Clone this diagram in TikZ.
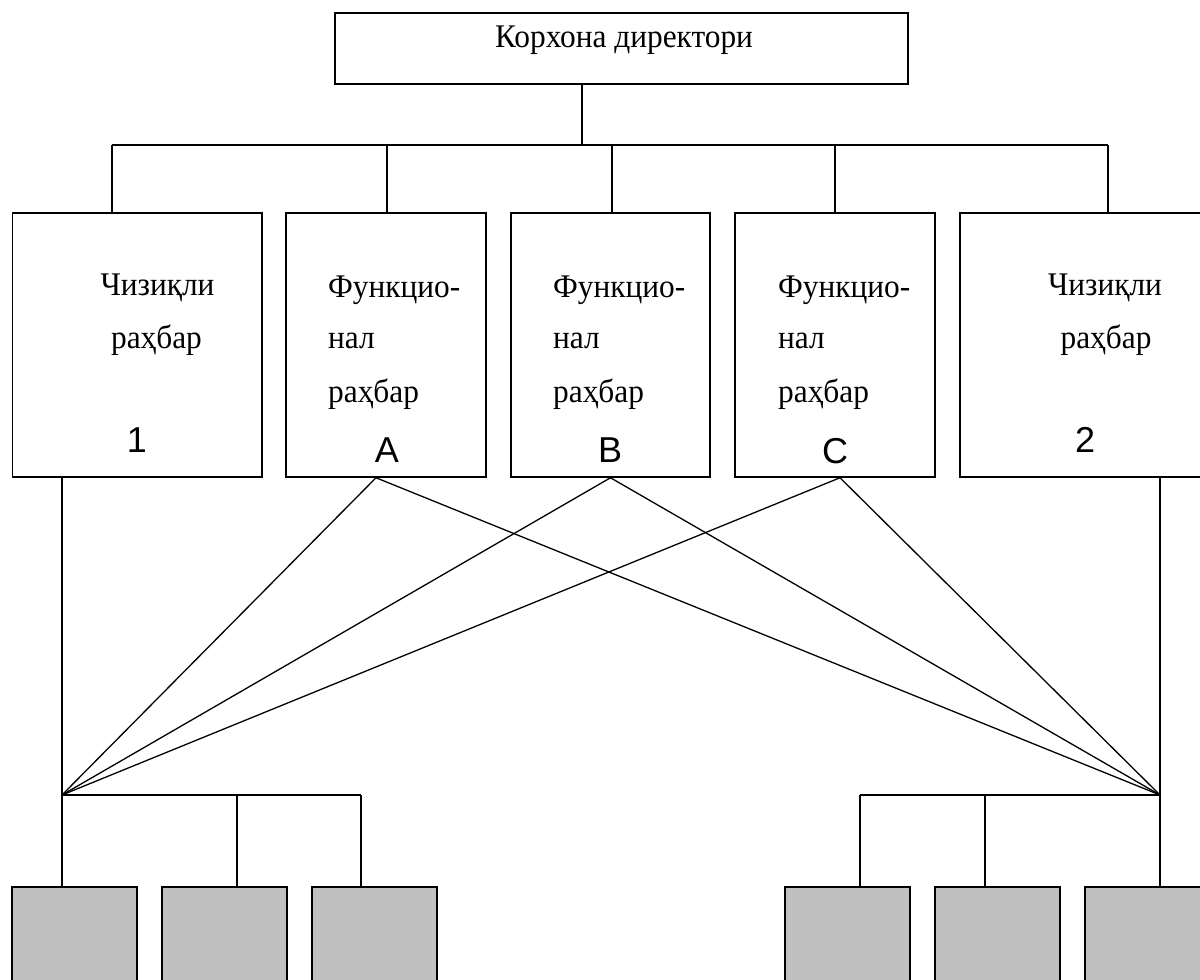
\documentclass[tikz,border=0pt]{standalone}
\usepackage{fontspec}
\setmainfont{Liberation Serif}[FakeStretch=0.95]
\newfontfamily\lsans{Liberation Sans}
\definecolor{boxgray}{RGB}{192,192,192}
\begin{document}
\begin{tikzpicture}[x=1pt,y=-1pt,
  box/.style={draw, rectangle, line width=1.5pt, inner sep=0pt},
  gbox/.style={draw, rectangle, line width=1.5pt, fill=boxgray, inner sep=0pt, minimum width=125pt, minimum height=110pt},
  lab/.style={inner sep=0pt, font=\fontsize{33}{33}\selectfont},
  letr/.style={inner sep=0pt, font=\lsans\fontsize{36}{36}\selectfont},
  wire/.style={line width=1.3pt}]
\useasboundingbox (0,0) rectangle (1200,980);
\clip (0,0) rectangle (1200,980);
% top box
\node[box, minimum width=573pt, minimum height=71pt] (dir) at (621.5,48.5) {};
\node[lab, anchor=base] (dirT) at (624,47) {Корхона директори};
% second row boxes
\node[box, minimum width=249.5pt, minimum height=264pt] (b1) at (137.25,345) {};
\node[box, minimum width=200pt, minimum height=264pt] (bA) at (386,345) {};
\node[box, minimum width=199pt, minimum height=264pt] (bB) at (610.5,345) {};
\node[box, minimum width=200pt, minimum height=264pt] (bC) at (835,345) {};
\node[box, minimum width=255pt, minimum height=264pt] (b2) at (1087.5,345) {};
% texts box 1
\node[lab, anchor=base] (t1a) at (157.5,295) {Чизиқли};
\node[lab, anchor=base] (t1b) at (156.5,348) {раҳбар};
\node[letr, anchor=base] (t1c) at (137,452) {1};
% texts box A
\node[lab, anchor=base west] (tAa) at (328,297) {Функцио-};
\node[lab, anchor=base west] (tAb) at (328,348) {нал};
\node[lab, anchor=base west] (tAc) at (328,402) {раҳбар};
\node[letr, anchor=base] (tAd) at (387,462) {A};
% texts box B
\node[lab, anchor=base west] (tBa) at (553,297) {Функцио-};
\node[lab, anchor=base west] (tBb) at (553,348) {нал};
\node[lab, anchor=base west] (tBc) at (553,402) {раҳбар};
\node[letr, anchor=base] (tBd) at (610,462) {B};
% texts box C
\node[lab, anchor=base west] (tCa) at (778,297) {Функцио-};
\node[lab, anchor=base west] (tCb) at (778,348) {нал};
\node[lab, anchor=base west] (tCc) at (778,402) {раҳбар};
\node[letr, anchor=base] (tCd) at (835,463) {C};
% texts box 2
\node[lab, anchor=base] (t2a) at (1105,295) {Чизиқли};
\node[lab, anchor=base] (t2b) at (1106,348) {раҳбар};
\node[letr, anchor=base] (t2c) at (1085,452) {2};
% gray boxes
\node[gbox] (g1) at (74.5,942) {};
\node[gbox] (g2) at (224.5,942) {};
\node[gbox] (g3) at (374.5,942) {};
\node[gbox] (g4) at (847.5,942) {};
\node[gbox] (g5) at (997.5,942) {};
\node[gbox] (g6) at (1147.5,942) {};
% upper bus
\coordinate (j0) at (582,145);
\coordinate (bus1) at (112,145);
\coordinate (busA) at (387,145);
\coordinate (busB) at (612,145);
\coordinate (busC) at (835,145);
\coordinate (bus2) at (1108,145);
\draw[wire] (j0 |- dir.south) -- (j0);
\draw[wire] (bus1) -- (bus2);
\draw[wire] (bus1) -- (bus1 |- b1.north);
\draw[wire] (busA) -- (busA |- bA.north);
\draw[wire] (busB) -- (busB |- bB.north);
\draw[wire] (busC) -- (busC |- bC.north);
\draw[wire] (bus2) -- (bus2 |- b2.north);
% lower left
\coordinate (fanL) at (62,795);
\coordinate (hL2) at (237,795);
\coordinate (hL3) at (361,795);
\draw[wire] (fanL |- b1.south) -- (fanL) -- (fanL |- g1.north);
\draw[wire] (fanL) -- (hL3);
\draw[wire] (hL2) -- (hL2 |- g2.north);
\draw[wire] (hL3) -- (hL3 |- g3.north);
% lower right
\coordinate (fanR) at (1160,795);
\coordinate (hR1) at (860,795);
\coordinate (hR2) at (985,795);
\draw[wire] (fanR |- b2.south) -- (fanR) -- (fanR |- g6.north);
\draw[wire] (hR1) -- (fanR);
\draw[wire] (hR1) -- (hR1 |- g4.north);
\draw[wire] (hR2) -- (hR2 |- g5.north);
% crossing lines
\draw[wire] ([xshift=-10pt]bA.south) -- (fanL);
\draw[wire] ([xshift=-10pt]bA.south) -- (fanR);
\draw[wire] (bB.south) -- (fanL);
\draw[wire] (bB.south) -- (fanR);
\draw[wire] ([xshift=5pt]bC.south) -- (fanL);
\draw[wire] ([xshift=5pt]bC.south) -- (fanR);
\end{tikzpicture}
\end{document}
